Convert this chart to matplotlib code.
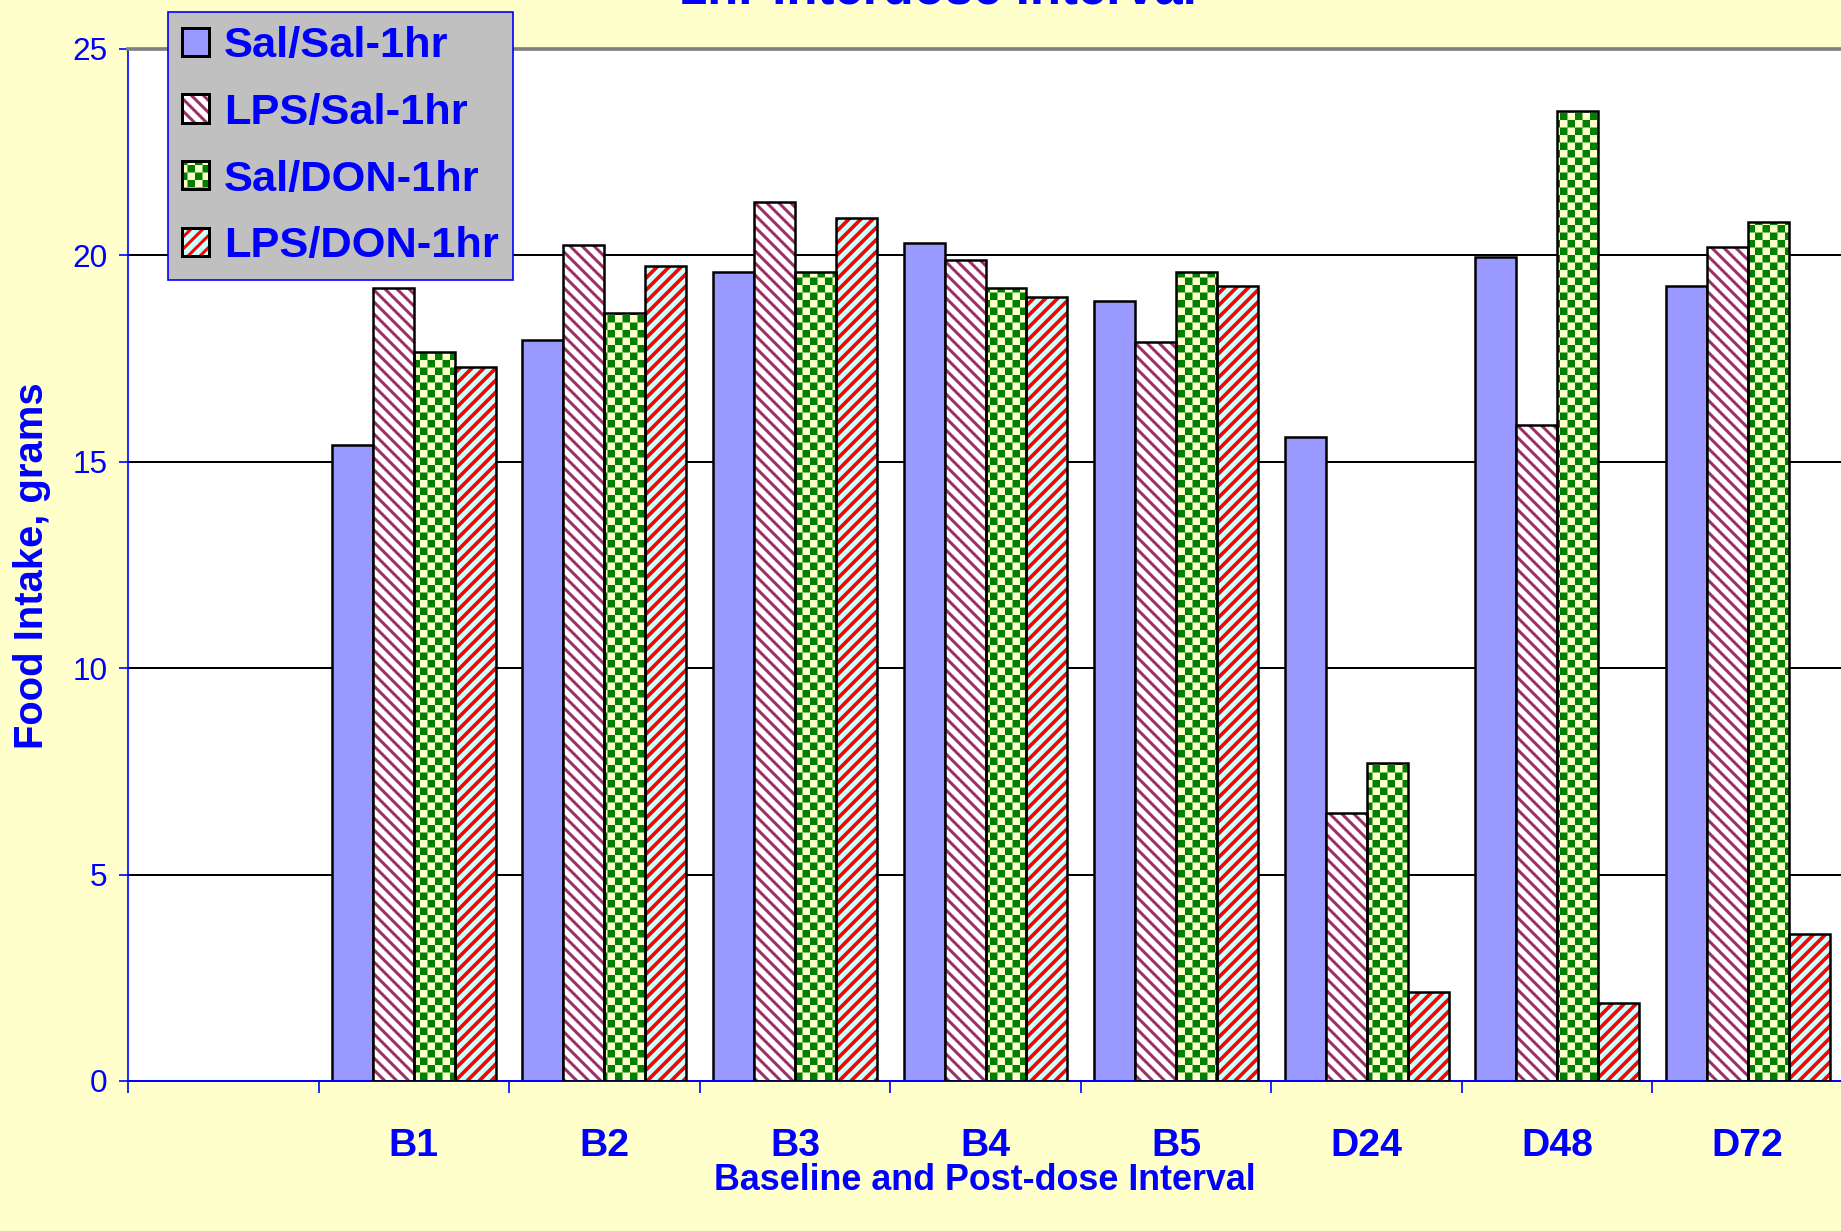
import warnings
import numpy as np
import matplotlib
matplotlib.use("Agg")
import matplotlib.pyplot as plt
import matplotlib.hatch as mhatch
from matplotlib.path import Path
from matplotlib.patches import Rectangle

warnings.filterwarnings("ignore")

# Valores (primeira categoria fica vazia)
categorias = ["", "B1", "B2", "B3", "B4", "B5", "D24", "D48", "D72"]
series = ["Sal/Sal-1hr", "LPS/Sal-1hr", "Sal/DON-1hr", "LPS/DON-1hr"]
sal_sal = [np.nan, 15.4, 17.95, 19.6, 20.3, 18.9, 15.6, 19.95, 19.25]
lps_sal = [np.nan, 19.2, 20.25, 21.3, 19.9, 17.9, 6.5, 15.9, 20.2]
sal_don = [np.nan, 17.65, 18.6, 19.6, 19.2, 19.6, 7.7, 23.5, 20.8]
lps_don = [np.nan, 17.3, 19.75, 20.9, 19.0, 19.25, 2.15, 1.9, 3.55]

DPI = 120
HATCH_LW = 1.8
plt.rcParams["hatch.linewidth"] = HATCH_LW
plt.rcParams["font.family"] = ["Liberation Sans", "DejaVu Sans"]


# hachura xadrez (nao existe no matplotlib), registrada como tipo 'c'
class CheckerHatch(mhatch.HatchPatternBase):
    def __init__(self, hatch, density):
        self.n = 16 if "c" in hatch else 0
        self.num_vertices = (self.n * self.n // 2) * 5

    def set_vertices_and_codes(self, vertices, codes):
        s = 1.0 / self.n
        shrink = (HATCH_LW / 72.0) / 2
        a, b = shrink, s - shrink
        quad = np.array([[a, a], [b, a], [b, b], [a, b], [a, a]])
        qcodes = [Path.MOVETO, Path.LINETO, Path.LINETO, Path.LINETO, Path.CLOSEPOLY]
        k = 0
        for i in range(self.n):
            for j in range(self.n):
                if (i + j) % 2 == 0:
                    vertices[k:k + 5] = quad + [i * s, j * s]
                    codes[k:k + 5] = qcodes
                    k += 5


# listras diagonais com espacamento proprio: 'p' = \  e  'q' = /
class DiagHatch(mhatch.HatchPatternBase):
    N = 10

    def __init__(self, hatch, density):
        self.se = "p" in hatch
        self.ne = "q" in hatch
        self.num_vertices = (2 * self.N + 1) * 2 * (int(self.se) + int(self.ne))

    def set_vertices_and_codes(self, vertices, codes):
        k = 0
        for c in np.arange(2 * self.N + 1) / self.N:
            if self.se:
                vertices[k] = [c - 1, 1]
                vertices[k + 1] = [c, 0]
                codes[k], codes[k + 1] = Path.MOVETO, Path.LINETO
                k += 2
            if self.ne:
                vertices[k] = [1 - c, 0]
                vertices[k + 1] = [2 - c, 1]
                codes[k], codes[k + 1] = Path.MOVETO, Path.LINETO
                k += 2


mhatch._hatch_types.append(CheckerHatch)
mhatch._hatch_types.append(DiagHatch)

azul = "#0000FF"
estilos = [
    dict(face="#9999FF", hatch=None, hc="black", hlw=HATCH_LW),
    dict(face="white", hatch="p", hc="#993366", hlw=1.8),
    dict(face="#FFFFCC", hatch="c", hc="#008000", hlw=HATCH_LW),
    dict(face="#CCFFFF", hatch="q", hc="#FF0000", hlw=2.2),
]
valores = [sal_sal, lps_sal, sal_don, lps_don]


def ajusta_lw(patches, lw):
    for p in patches:
        if hasattr(p, "set_hatch_linewidth"):
            p.set_hatch_linewidth(lw)


fig = plt.figure(figsize=(1841 / DPI, 1231 / DPI), dpi=DPI, facecolor="#FFFFCC")
ax = fig.add_axes([128 / 1841, 150 / 1231, 1715 / 1841, 1032 / 1231])
ax.set_facecolor("white")

x = np.arange(len(categorias))
w = 0.215
handles = []
for i, (vals, st) in enumerate(zip(valores, estilos)):
    pos = x + (i - 1.5) * w
    if st["hatch"] is None:
        ax.bar(pos, vals, w, color=st["face"], edgecolor="black", linewidth=1.5, zorder=2)
        handles.append(Rectangle((0, 0), 1, 1, facecolor=st["face"], edgecolor="black", linewidth=1.8))
    else:
        with plt.rc_context({"hatch.linewidth": st["hlw"]}):
            b = ax.bar(pos, vals, w, color=st["face"], hatch=st["hatch"], edgecolor=st["hc"],
                       linewidth=0, zorder=2)
            h1 = Rectangle((0, 0), 1, 1, facecolor=st["face"], hatch=st["hatch"],
                           edgecolor=st["hc"], linewidth=0)
        ajusta_lw(list(b) + [h1], st["hlw"])
        ax.bar(pos, vals, w, fill=False, edgecolor="black", linewidth=1.5, zorder=3)
        h2 = Rectangle((0, 0), 1, 1, fill=False, edgecolor="black", linewidth=1.8)
        handles.append((h1, h2))

ax.set_xlim(-0.5, 8.5)
ax.set_ylim(0, 25)
ax.set_yticks([0, 5, 10, 15, 20, 25])
ax.yaxis.grid(True, color="black", linewidth=1.2)
ax.set_axisbelow(True)

ax.set_xticks(np.arange(-0.5, 8.6, 1.0))
ax.set_xticklabels([])
ax.set_xticks(x, minor=True)
ax.set_xticklabels(categorias, minor=True, fontsize=23.5, fontweight="bold", color=azul)
ax.tick_params(axis="x", which="major", direction="out", length=7, width=1, color=azul)
ax.tick_params(axis="x", which="minor", length=0, pad=28)
ax.tick_params(axis="y", direction="out", length=5.4, width=1, color=azul,
               labelsize=19, labelcolor=azul, pad=7)

ax.spines["right"].set_visible(False)
ax.spines["top"].set_color("#808080")
ax.spines["top"].set_linewidth(2.2)
ax.spines["left"].set_color(azul)
ax.spines["bottom"].set_color(azul)
ax.spines["left"].set_linewidth(1)
ax.spines["bottom"].set_linewidth(1.2)

fig.text(32 / 1841, 1 - 566 / 1231, "Food Intake, grams", rotation=90, ha="center", va="center",
         fontsize=24, fontweight="bold", color=azul)
fig.text(985 / 1841, 1 - 1180 / 1231, "Baseline and Post-dose Interval", ha="center", va="center",
         fontsize=21.5, fontweight="bold", color=azul)
fig.text(938 / 1841, 1 - 3 / 1231, "1hr Interdose Interval", ha="center", va="baseline",
         fontsize=30.5, fontweight="bold", color=azul)

leg = fig.legend(handles, series, loc="upper left", bbox_to_anchor=(168 / 1841, 1 - 12 / 1231),
                 prop={"weight": "bold", "size": 26}, labelcolor=azul,
                 handlelength=0.62, handleheight=0.62, handletextpad=0.35,
                 borderpad=0.32, labelspacing=0.62, borderaxespad=0,
                 fancybox=False, facecolor="#C0C0C0", edgecolor=azul, framealpha=1)
leg.get_frame().set_linewidth(1)

fig.savefig("out.png", dpi=DPI, facecolor=fig.get_facecolor())
